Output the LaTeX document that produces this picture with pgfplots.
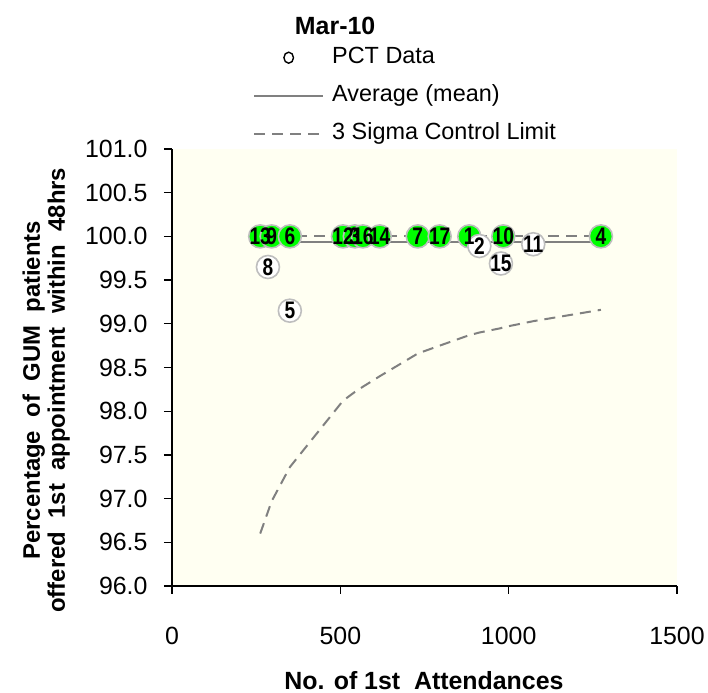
\documentclass[border=0pt]{standalone}
\usepackage{pgfplots}
\pgfplotsset{compat=1.18}
\usepackage{fontspec}
\setmainfont{Liberation Sans}
\newfontfamily\narrowbold[FakeStretch=0.8]{Liberation Sans Bold}
\definecolor{bgcream}{RGB}{255,255,242}
\definecolor{lgray}{RGB}{128,128,128}
\definecolor{mgreen}{RGB}{0,255,0}
\definecolor{edgegray}{RGB}{190,190,190}

\pgfplotstableread{
x y lab
262 100 13
296 100 9
350 100 6
508 100 12
543 100 3
567 100 16
617 100 14
730 100 7
795 100 17
883 100 1
984 100 10
1274 100 4
}\greenpts

\pgfplotstableread{
x y lab
285 99.65 8
350 99.15 5
913 99.89 2
977 99.69 15
1073 99.91 11
}\whitepts

\pgfplotstableread{
x y
262 96.60
285 96.85
296 96.97
350 97.36
508 98.12
543 98.22
567 98.28
617 98.40
730 98.66
795 98.75
883 98.87
913 98.90
977 98.95
984 98.96
1073 99.03
1274 99.16
}\lcl

\begin{document}
\begin{tikzpicture}
\path[use as bounding box] (0bp,0bp) rectangle (708bp,693bp);
\begin{axis}[
  at={(172bp,107bp)}, anchor=south west,
  scale only axis, width=505bp, height=437bp,
  xmin=0, xmax=1500, ymin=96, ymax=101,
  xtick={0,500,1000,1500},
  ytick={96,96.5,97,97.5,98,98.5,99,99.5,100,100.5,101},
  axis x line*=bottom, axis y line*=left,
  axis line style={-, line width=1.5bp, black},
  tick align=outside, major tick length=8bp,
  tick style={black, line width=1.3bp},
  axis background/.style={fill=bgcream},
  /pgf/number format/assume math mode=true,
  /pgf/number format/1000 sep={},
  ticklabel style={font=\fontsize{25}{25}\selectfont},
  yticklabel style={/pgf/number format/fixed, /pgf/number format/fixed zerofill, /pgf/number format/precision=1, xshift=-13bp},
  xticklabel style={yshift=-30bp},
  title={Mar-10},
  title style={at={(axis description cs:0.323,1.268)}, anchor=center, font=\bfseries\fontsize{25}{25}\selectfont},
  xlabel={No. of 1st\ \ Attendances},
  xlabel style={at={(axis description cs:0.499,-0.216)}, anchor=center, font=\bfseries\fontsize{25}{25}\selectfont},
  ylabel={Percentage\ \ of\ \ GUM\ \ patients\\offered\ \ 1st\ \ appointment\ \ within\ \ 48hrs},
  ylabel style={at={(axis description cs:-0.249,0.448)}, anchor=center, align=center, font=\bfseries\fontsize{24}{25}\selectfont},
  legend image code/.code={\draw[#1] (0bp,0bp) -- (69bp,0bp);},
  legend style={at={(axis description cs:0.1604,1.2334)}, anchor=north west, draw=none, fill=none, inner sep=0pt,
    font=\fontsize{23.5}{23.5}\selectfont, row sep=17bp,
    nodes={inner sep=0pt, text height=16bp, text depth=5bp},
    /tikz/every odd column/.append style={column sep=8bp}},
  legend cell align=left,
]
\addlegendimage{black, legend image code/.code={\draw[black, line width=1.4bp] (34.5bp,0bp) ellipse (4.8bp and 5.5bp);}}
\addlegendentry{PCT Data}
\addlegendimage{lgray, line width=2bp}
\addlegendentry{Average (mean)}
\addlegendimage{lgray, line width=2bp, dash pattern=on 11bp off 7bp}
\addlegendentry{3 Sigma Control Limit}

\addplot[lgray, line width=2bp, forget plot] coordinates {(262,99.94) (1274,99.94)};
\addplot[lgray, line width=2bp, dash pattern=on 11bp off 7bp, forget plot] coordinates {(262,100) (1274,100)};
\addplot[lgray, line width=2bp, dash pattern=on 11bp off 7bp, forget plot] table[x=x, y=y] {\lcl};

\addplot[only marks, mark=*, mark size=11.5bp, mark options={fill=mgreen, draw=edgegray, line width=1.6bp},
  forget plot] table[x=x, y=y] {\greenpts};
\addplot[only marks, mark=*, mark size=11.5bp, mark options={fill=white, draw=edgegray, line width=1.6bp},
  forget plot] table[x=x, y=y] {\whitepts};

\addplot[draw=none, mark=none, nodes near coords, point meta=explicit symbolic,
  every node near coord/.append style={anchor=center, inner sep=0pt, font=\narrowbold\fontsize{24}{24}\selectfont, text=black},
  forget plot] table[x=x, y=y, meta=lab] {\greenpts};
\addplot[draw=none, mark=none, nodes near coords, point meta=explicit symbolic,
  every node near coord/.append style={anchor=center, inner sep=0pt, font=\narrowbold\fontsize{24}{24}\selectfont, text=black},
  forget plot] table[x=x, y=y, meta=lab] {\whitepts};
\end{axis}
\end{tikzpicture}
\end{document}
